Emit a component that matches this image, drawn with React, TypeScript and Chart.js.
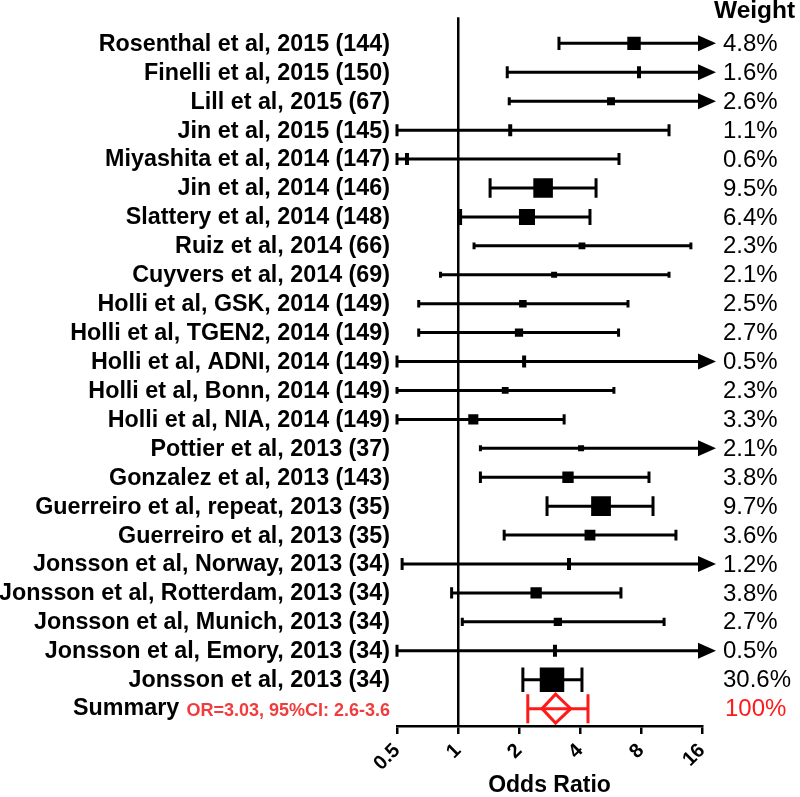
import React, { useEffect, useRef } from 'react';
import { Chart, registerables } from 'chart.js';

Chart.register(...registerables);

// ---------- data ----------
const studies = [
  'Rosenthal et al, 2015 (144)',
  'Finelli et al, 2015 (150)',
  'Lill et al, 2015 (67)',
  'Jin et al, 2015 (145)',
  'Miyashita et al, 2014 (147)',
  'Jin et al, 2014 (146)',
  'Slattery et al, 2014 (148)',
  'Ruiz et al, 2014 (66)',
  'Cuyvers et al, 2014 (69)',
  'Holli et al, GSK, 2014 (149)',
  'Holli et al, TGEN2, 2014 (149)',
  'Holli et al, ADNI, 2014 (149)',
  'Holli et al, Bonn, 2014 (149)',
  'Holli et al, NIA, 2014 (149)',
  'Pottier et al, 2013 (37)',
  'Gonzalez et al, 2013 (143)',
  'Guerreiro et al, repeat, 2013 (35)',
  'Guerreiro et al, 2013 (35)',
  'Jonsson et al, Norway, 2013 (34)',
  'Jonsson et al, Rotterdam, 2013 (34)',
  'Jonsson et al, Munich, 2013 (34)',
  'Jonsson et al, Emory, 2013 (34)',
  'Jonsson et al, 2013 (34)',
];
const oddsRatio = [7.39, 7.82, 5.69, 1.81, 0.56, 2.63, 2.19, 4.09, 2.98, 2.09, 2.0, 2.12, 1.71, 1.19, 4.05, 3.49, 5.08, 4.48, 3.53, 2.43, 3.11, 3.01, 2.91];
const lowerCI = [3.15, 1.75, 1.79, 0.5, 0.5, 1.44, 1.03, 1.2, 0.82, 0.64, 0.64, 0.5, 0.5, 0.5, 1.29, 1.29, 2.75, 1.69, 0.53, 0.93, 1.05, 0.5, 2.09];
const upperCI = [20, 20, 20, 11.0, 6.23, 4.8, 4.48, 14.1, 11.0, 6.9, 6.2, 20, 5.88, 3.34, 20, 8.76, 9.17, 11.9, 20, 6.37, 10.4, 20, 4.09];
const weights = [4.8, 1.6, 2.6, 1.1, 0.6, 9.5, 6.4, 2.3, 2.1, 2.5, 2.7, 0.5, 2.3, 3.3, 2.1, 3.8, 9.7, 3.6, 1.2, 3.8, 2.7, 0.5, 30.6];

const summaryLabel = 'Summary';
const summaryNote = 'OR=3.03, 95%CI: 2.6-3.6';
const summaryOR = 3.03;
const summaryCI = [2.6, 3.6];
const summaryRange = [2.21, 4.38];
const summaryWeight = '100%';

const xTicks = [0.5, 1, 2, 4, 8, 16];
const X_MIN = 0.5;
const X_MAX = 16;

// ---------- styling helpers ----------
const FONT = '"Liberation Sans", Arial, Helvetica, sans-serif';
const RED = '#ff1a1a';

function markerSize(w: number): { w: number; h: number } {
  if (w < 2) return { w: 4, h: 12 };
  const s = Math.min(24.5, 6 + 9 * Math.log(w / 2.1));
  return { w: s, h: s };
}

const summaryRow = studies.length;

const forestPlugin = {
  id: 'forest',
  beforeDatasetsDraw(chart: any) {
    const { ctx, chartArea } = chart;
    const x = chart.scales.x;
    const y = chart.scales.y;
    ctx.save();
    ctx.strokeStyle = '#000';
    ctx.fillStyle = '#000';
    ctx.lineWidth = 3;
    for (let i = 0; i < studies.length; i++) {
      const yy = y.getPixelForValue(i);
      const x0 = x.getPixelForValue(Math.max(lowerCI[i], X_MIN));
      const arrow = upperCI[i] > X_MAX;
      const x1 = arrow ? chartArea.right - 4 : x.getPixelForValue(upperCI[i]);
      const h = markerSize(weights[i]).h;
      ctx.beginPath();
      ctx.moveTo(x0, yy);
      ctx.lineTo(x1, yy);
      ctx.moveTo(x0, yy - h / 2);
      ctx.lineTo(x0, yy + h / 2);
      if (!arrow) {
        ctx.moveTo(x1, yy - h / 2);
        ctx.lineTo(x1, yy + h / 2);
      }
      ctx.stroke();
      if (arrow) {
        ctx.beginPath();
        ctx.moveTo(x1, yy - 8);
        ctx.lineTo(x1 + 18, yy);
        ctx.lineTo(x1, yy + 8);
        ctx.closePath();
        ctx.fill();
      }
    }
    // summary
    const ys = y.getPixelForValue(summaryRow);
    const a = x.getPixelForValue(summaryRange[0]);
    const b = x.getPixelForValue(summaryRange[1]);
    const dl = x.getPixelForValue(summaryCI[0]);
    const dr = x.getPixelForValue(summaryCI[1]);
    const dc = x.getPixelForValue(summaryOR);
    ctx.strokeStyle = RED;
    ctx.lineWidth = 3;
    ctx.beginPath();
    ctx.moveTo(a, ys);
    ctx.lineTo(b, ys);
    ctx.moveTo(a, ys - 14.5);
    ctx.lineTo(a, ys + 14.5);
    ctx.moveTo(b, ys - 14.5);
    ctx.lineTo(b, ys + 14.5);
    ctx.stroke();
    ctx.beginPath();
    ctx.moveTo(dl, ys);
    ctx.lineTo(dc, ys - 14.5);
    ctx.lineTo(dr, ys);
    ctx.lineTo(dc, ys + 14.5);
    ctx.closePath();
    ctx.stroke();
    ctx.restore();
  },
  afterDraw(chart: any) {
    const { ctx } = chart;
    const y = chart.scales.y;
    ctx.save();
    ctx.textBaseline = 'middle';
    // study labels
    ctx.fillStyle = '#000';
    ctx.font = `bold 23.3px ${FONT}`;
    ctx.textAlign = 'right';
    for (let i = 0; i < studies.length; i++) {
      ctx.fillText(studies[i], 390, y.getPixelForValue(i) + 1);
    }
    const ys = y.getPixelForValue(summaryRow);
    ctx.textAlign = 'left';
    ctx.fillText(summaryLabel, 73, ys);
    ctx.textAlign = 'right';
    ctx.fillStyle = '#f03c3c';
    ctx.font = `bold 18px ${FONT}`;
    ctx.fillText(summaryNote, 390, ys + 2);
    // weights
    ctx.textAlign = 'left';
    ctx.font = `24px ${FONT}`;
    ctx.fillStyle = '#000';
    for (let i = 0; i < studies.length; i++) {
      ctx.fillText(weights[i].toFixed(1) + '%', 723, y.getPixelForValue(i) + 1);
    }
    ctx.fillStyle = RED;
    ctx.fillText(summaryWeight, 725, ys + 1);
    ctx.fillStyle = '#000';
    ctx.font = `bold 24.5px ${FONT}`;
    ctx.fillText('Weight', 714, 11);
    ctx.restore();
  },
};

export default function App() {
  const canvasRef = useRef<HTMLCanvasElement | null>(null);

  useEffect(() => {
    if (!canvasRef.current) return;
    const points = oddsRatio.map((v, i) => ({ x: v, y: i }));
    const radius = (c: any) => {
      const w = weights[c.dataIndex];
      return w < 2 ? 6 : markerSize(w).w / Math.SQRT2;
    };
    const chart = new Chart(canvasRef.current, {
      type: 'scatter',
      data: {
        datasets: [
          {
            data: points,
            backgroundColor: '#000',
            borderColor: '#000',
            pointStyle: (c: any) => (weights[c.dataIndex] < 2 ? 'line' : 'rect'),
            rotation: (c: any) => (weights[c.dataIndex] < 2 ? 90 : 0),
            borderWidth: (c: any) => (weights[c.dataIndex] < 2 ? 4 : 0),
            pointRadius: radius,
            pointHoverRadius: radius,
          } as any,
        ],
      },
      options: {
        responsive: false,
        animation: false,
        devicePixelRatio: 1,
        events: [],
        layout: { padding: { left: 397, right: 98, top: 16, bottom: 0 } },
        plugins: { legend: { display: false }, tooltip: { enabled: false } },
        scales: {
          x: {
            type: 'logarithmic',
            min: X_MIN,
            max: X_MAX,
            afterBuildTicks: (scale: any) => {
              scale.ticks = xTicks.map((v) => ({ value: v }));
            },
            afterFit: (scale: any) => {
              scale.height = 71;
            },
            border: { display: true, color: '#000', width: 2.5 },
            grid: {
              color: (c: any) => (c.tick && c.tick.value === 1 ? '#000' : 'rgba(0,0,0,0)'),
              lineWidth: 2.5,
              drawTicks: true,
              tickLength: 8,
              tickColor: '#000',
              tickWidth: 2.5,
            },
            ticks: {
              autoSkip: false,
              minRotation: 45,
              maxRotation: 45,
              padding: 5,
              color: '#000',
              font: { family: FONT, size: 20, weight: 'bold' },
              callback: (v: any) => String(v),
            },
            title: {
              display: true,
              text: 'Odds Ratio',
              color: '#000',
              font: { family: FONT, size: 23, weight: 'bold', lineHeight: 1 },
              padding: { top: 0, bottom: 0 },
            },
          },
          y: {
            type: 'linear',
            display: false,
            reverse: true,
            min: -0.9,
            max: 23.6,
          },
        },
      },
      plugins: [forestPlugin],
    } as any);
    return () => chart.destroy();
  }, []);

  return (
    <div style={{ position: 'absolute', left: 0, top: 0, width: 800, height: 797, background: '#fff' }}>
      <canvas ref={canvasRef} width={800} height={797} />
    </div>
  );
}
